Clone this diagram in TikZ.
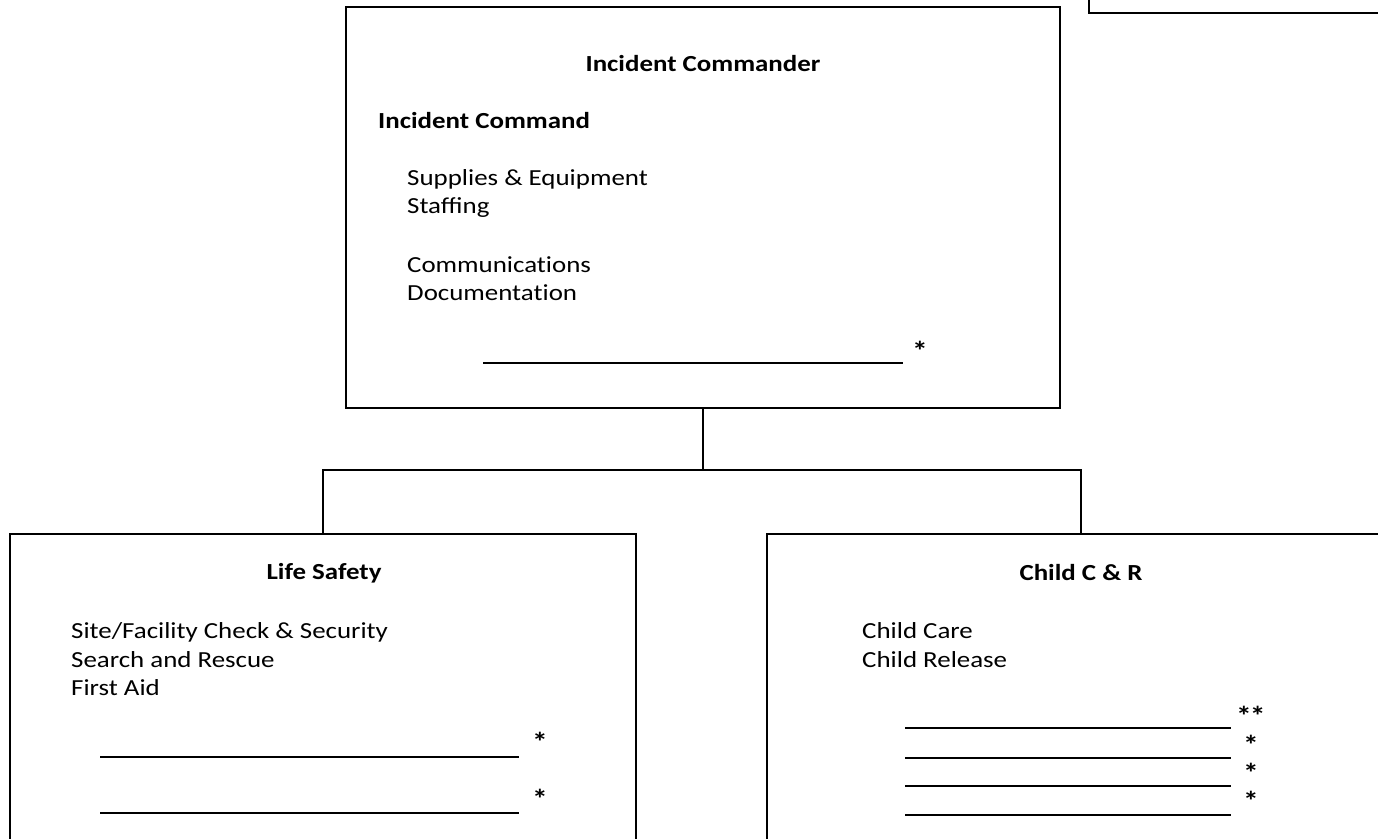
\documentclass[tikz,border=0pt]{standalone}
\usepackage{fontspec}
\setmainfont{Carlito}[FakeStretch=1.17]
\begin{document}
\begin{tikzpicture}[x=1pt,y=-1pt,
  box/.style={draw=black,line width=2.2pt,rectangle,inner sep=0pt},
  conn/.style={draw=black,line width=2pt},
  rule/.style={draw=black,line width=1.5pt},
  title/.style={inner sep=0pt,anchor=base,font=\fontsize{23}{28}\selectfont\bfseries},
  item/.style={inner sep=0pt,anchor=base west,font=\fontsize{23}{28}\selectfont},
  head/.style={inner sep=0pt,anchor=base west,font=\fontsize{23}{28}\selectfont\bfseries},
  star/.style={inner sep=0pt,anchor=base west,font=\fontsize{27}{28}\selectfont\bfseries}]
\useasboundingbox (0,0) rectangle (1378,838);
\clip (0,0) rectangle (1378,838);
% boxes
\node[box,minimum width=714pt,minimum height=401pt] (ic) at (703,207.5) {};
\node[box,minimum width=626pt,minimum height=330pt] (ls) at (323,699) {};
\node[box,minimum width=628pt,minimum height=330pt] (cr) at (1081,699) {};
\node[box,minimum width=320pt,minimum height=60pt] (tr) at (1249,-17) {};
% connectors
\coordinate (j) at (703,470);
\draw[conn] (ic.south) -- (j);
\draw[conn] (ls.north) -- (ls.north |- j) -- (cr.north |- j) -- (cr.north);
% Incident Commander box
\node[title] (ict) at (703,71) {Incident Commander};
\node[head] (icc) at (378,128) {Incident Command};
\node[item] (ic1) at (407,185) {Supplies \& Equipment};
\node[item] (ic2) at (407,213) {Staffing};
\node[item] (ic3) at (407,272) {Communicat\kern0pt ions};
\node[item] (ic4) at (407,300) {Documentat\kern0pt ion};
\draw[rule] (483,363) -- (903,363);
\node[star] (ics) at (912,360) {*};
% Life Safety box
\node[title] (lst) at (324,579) {Life Safety};
\node[item] (ls1) at (71,638) {Site/Facility Check \& Security};
\node[item] (ls2) at (71,667) {Search and Rescue};
\node[item] (ls3) at (71,695) {First Aid};
\draw[rule] (100,757) -- (519,757);
\node[star] (lss1) at (532,751) {*};
\draw[rule] (100,813) -- (519,813);
\node[star] (lss2) at (532,808) {*};
% Child C & R box
\node[title] (crt) at (1081,580) {Child C \& R};
\node[item] (cr1) at (862,638) {Child Care};
\node[item] (cr2) at (862,667) {Child Release};
\draw[rule] (905,728) -- (1231,728);
\draw[rule] (905,758) -- (1231,758);
\draw[rule] (905,786) -- (1231,786);
\draw[rule] (905,815) -- (1231,815);
\node[star] (crs1) at (1236,725) {*\kern-2pt*};
\node[star] (crs2) at (1243,754) {*};
\node[star] (crs3) at (1243,782) {*};
\node[star] (crs4) at (1243,810) {*};
\end{tikzpicture}
\end{document}
